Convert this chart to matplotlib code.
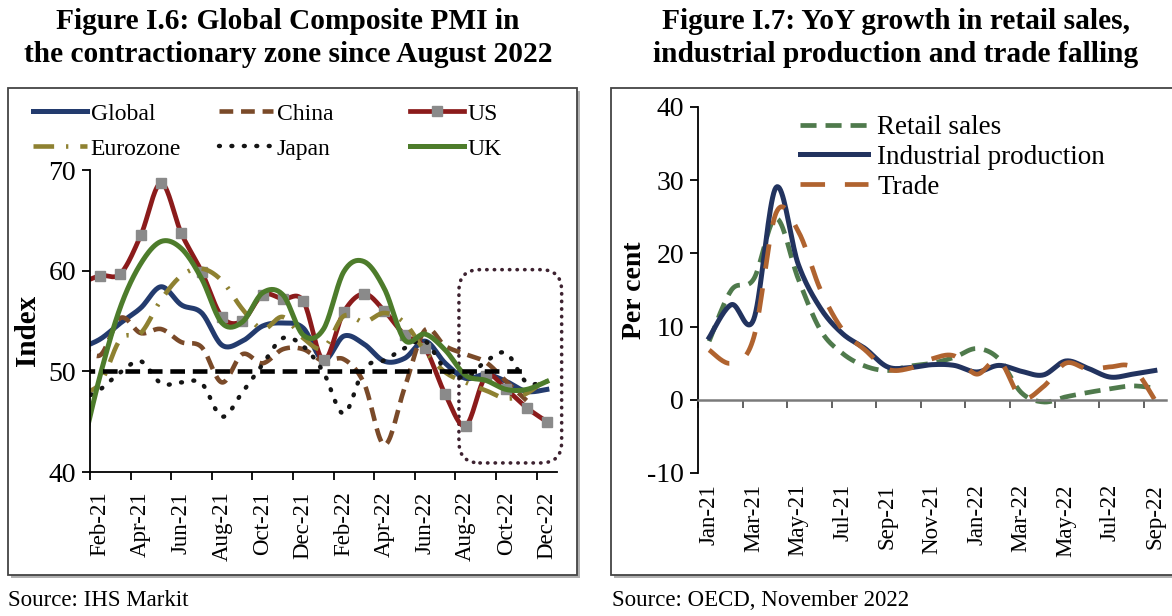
import numpy as np
import matplotlib
matplotlib.use("Agg")
import matplotlib.pyplot as plt
from matplotlib.lines import Line2D
from matplotlib.patches import Rectangle, FancyBboxPatch

plt.rcParams['font.family'] = ['Liberation Serif', 'DejaVu Serif']
plt.rcParams['axes.unicode_minus'] = False

# Figure I.6: composite PMI, Jan-21 .. Dec-22 (Jan-21 sits left of the axis start)
pmi_months = ['Jan-21', 'Feb-21', 'Mar-21', 'Apr-21', 'May-21', 'Jun-21', 'Jul-21', 'Aug-21',
              'Sep-21', 'Oct-21', 'Nov-21', 'Dec-21', 'Jan-22', 'Feb-22', 'Mar-22', 'Apr-22',
              'May-22', 'Jun-22', 'Jul-22', 'Aug-22', 'Sep-22', 'Oct-22', 'Nov-22', 'Dec-22']
pmi_global = [52.3, 53.2, 54.8, 56.3, 58.4, 56.6, 55.8, 52.6, 53.0, 54.5, 54.8, 54.3,
              51.1, 53.5, 52.7, 51.0, 51.3, 53.0, 50.8, 49.3, 49.7, 49.0, 48.0, 48.2]
pmi_china = [52.8, 51.6, 55.3, 53.8, 54.2, 52.9, 52.4, 48.9, 51.7, 50.8, 52.2, 52.2,
             51.0, 51.2, 48.8, 42.7, 48.4, 54.1, 52.5, 51.7, 50.9, 49.0, 47.1, np.nan]
pmi_us = [58.7, 59.5, 59.7, 63.5, 68.7, 63.7, 59.9, 55.4, 55.0, 57.6, 57.2, 57.0,
          51.1, 55.9, 57.7, 56.0, 53.6, 52.3, 47.7, 44.6, 49.5, 48.2, 46.4, 45.0]
pmi_eurozone = [47.8, 48.8, 53.2, 53.8, 57.1, 59.5, 60.2, 59.0, 56.2, 54.2, 55.4, 53.3,
                52.3, 55.5, 54.9, 55.8, 54.8, 52.0, 49.9, 48.9, 48.1, 47.3, 47.8, 49.3]
pmi_japan = [47.1, 48.2, 49.9, 51.0, 48.8, 48.9, 48.8, 45.5, 47.9, 50.7, 53.3, 52.5,
             49.9, 45.8, 50.3, 51.1, 52.3, 53.0, 50.2, 49.4, 51.0, 51.8, 48.9, 49.0]
pmi_uk = [41.2, 49.6, 56.4, 60.7, 62.9, 62.2, 59.2, 54.8, 54.9, 57.8, 57.6, 53.6,
          54.2, 59.9, 60.9, 58.2, 53.1, 53.7, 52.1, 49.6, 49.1, 48.2, 48.2, 49.0]
pmi_threshold = [50.0] * 23 + [np.nan]

# Figure I.7: YoY growth (per cent), Jan-21 .. Sep-22
oecd_months = ['Jan-21', 'Feb-21', 'Mar-21', 'Apr-21', 'May-21', 'Jun-21', 'Jul-21',
               'Aug-21', 'Sep-21', 'Oct-21', 'Nov-21', 'Dec-21', 'Jan-22', 'Feb-22',
               'Mar-22', 'Apr-22', 'May-22', 'Jun-22', 'Jul-22', 'Aug-22', 'Sep-22']
retail_sales = [8.0, 15.0, 16.5, 24.8, 16.5, 9.5, 6.3, 4.6, 4.0, 4.6, 5.0, 5.8,
                7.0, 5.6, 1.0, -0.3, 0.4, 1.0, 1.5, 1.9, 1.6]
industrial_prod = [8.5, 13.0, 11.0, 29.0, 18.5, 12.5, 9.0, 7.0, 4.5, 4.4, 4.8, 4.7,
                   3.8, 4.7, 3.9, 3.4, 5.3, 4.3, 3.1, 3.5, 4.0]
trade = [6.8, 5.0, 8.5, 25.5, 23.0, 15.0, 9.5, 6.8, 4.2, 4.3, 5.6, 6.0,
         3.5, 5.4, 0.3, 1.8, 5.0, 4.2, 4.5, 4.4, 0.0]


def smooth(values, steps=20):
    # Catmull-Rom curve through the points, like Excel's "smoothed line"
    y = np.asarray(values, dtype=float)
    x = np.arange(len(y), dtype=float)
    ok = ~np.isnan(y)
    x, y = x[ok], y[ok]
    xp = np.concatenate([[x[0]], x, [x[-1]]])
    yp = np.concatenate([[y[0]], y, [y[-1]]])
    t = np.linspace(0, 1, steps, endpoint=False)
    xs, ys = [], []
    for i in range(1, len(x)):
        for arr, out in ((xp, xs), (yp, ys)):
            p0, p1, p2, p3 = arr[i - 1], arr[i], arr[i + 1], arr[i + 2]
            out.append(0.5 * (2 * p1 + (-p0 + p2) * t + (2 * p0 - 5 * p1 + 4 * p2 - p3) * t ** 2
                              + (-p0 + 3 * p1 - 3 * p2 + p3) * t ** 3))
    xs.append([x[-1]])
    ys.append([y[-1]])
    return np.concatenate(xs), np.concatenate(ys)


W, H = 1172, 616
fig = plt.figure(figsize=(W / 100, H / 100), dpi=100)

# panel frames
for x0, x1 in ((8, 577), (611, 1175)):
    fig.add_artist(Rectangle(((x0 + 3) / W, (H - 578) / H), (x1 - x0) / W, (575 - 88) / H,
                             transform=fig.transFigure, facecolor='#b0b0b0', edgecolor='none', zorder=-3))
    fig.add_artist(Rectangle((x0 / W, (H - 575) / H), (x1 - x0) / W, (575 - 88) / H,
                             transform=fig.transFigure, facecolor='white', edgecolor='#444444',
                             lw=1.3, zorder=-2))

title_kw = dict(ha='center', va='center', fontsize=21.2, fontweight='bold', linespacing=1.3)
fig.text(288 / W, 1 - 38 / H, 'Figure I.6: Global Composite PMI in\nthe contractionary zone since August 2022', **title_kw)
fig.text(896 / W, 1 - 38 / H, 'Figure I.7: YoY growth in retail sales,\nindustrial production and trade falling', **title_kw)
fig.text(8 / W, 1 - 601 / H, 'Source: IHS Markit', va='center', fontsize=16.5)
fig.text(612 / W, 1 - 601 / H, 'Source: OECD, November 2022', va='center', fontsize=16.5)

# ---------------- left: PMI ----------------
axL = fig.add_axes([90 / W, 144 / H, 467 / W, 302 / H])
axL.set_facecolor('none')

styles = {
    'Global': dict(color='#233b6e', lw=3.6),
    'China': dict(color='#7a4a29', lw=3.3, ls=(0, (3, 1.7))),
    'US': dict(color='#8b1b1b', lw=3.4),
    'Eurozone': dict(color='#8e8131', lw=3.3, ls=(0, (4.5, 2.6, 0.5, 2.6))),
    'Japan': dict(color='#151515', lw=3.2, ls=(0, (0.2, 2.6)), dash_capstyle='round'),
    'UK': dict(color='#4d7c2b', lw=3.6),
}
series = {'Global': pmi_global, 'China': pmi_china, 'US': pmi_us,
          'Eurozone': pmi_eurozone, 'Japan': pmi_japan, 'UK': pmi_uk}
for name, vals in series.items():
    xs, ys = smooth(vals)
    axL.plot(xs, ys, **styles[name])
    if name == 'US':
        axL.plot(np.arange(len(vals)), vals, ls='none', marker='s', ms=7,
                 mfc='#8a8a8a', mec='#8a8a8a')

xs, ys = smooth(pmi_threshold)
axL.plot(xs, ys, color='black', lw=3.3, ls=(0, (3.2, 1.7)))

axL.set_xlim(0.5, 23.5)
axL.set_ylim(40, 70)
axL.set_yticks([40, 50, 60, 70])
axL.set_xticks(np.arange(0.5, 23.5, 2))
axL.set_xticklabels([])
axL.set_xticks(np.arange(1, len(pmi_months), 2), pmi_months[1::2], minor=True)
axL.tick_params(axis='x', which='minor', length=0, rotation=90, labelsize=16.5, pad=14)
axL.tick_params(axis='x', which='major', length=6, width=1.3, direction='out')
axL.tick_params(axis='y', length=6, width=1.3, labelsize=20, pad=4)
for s in ('top', 'right'):
    axL.spines[s].set_visible(False)
for s in ('left', 'bottom'):
    axL.spines[s].set_linewidth(1.3)
axL.set_ylabel('Index', fontsize=21, fontweight='bold')
axL.yaxis.set_label_coords(-0.105, 0.47)

# dotted rounded box around the latest months
asp = 467 / 302
box = FancyBboxPatch((0.79, 0.03), 0.22, 0.64, boxstyle='round,pad=0,rounding_size=0.045',
                     mutation_aspect=asp, transform=axL.transAxes, clip_on=False,
                     fill=False, edgecolor='#3d2230', lw=2.6, ls=(0, (0.1, 2.0)),
                     capstyle='round')
axL.add_patch(box)

# legend: three columns, placed one by one
columns = [(['Global', 'Eurozone'], 33), (['China', 'Japan'], 219), (['US', 'UK'], 410)]
for names, xpix in columns:
    handles = []
    for name in names:
        kw = dict(styles[name])
        if name == 'US':
            kw.update(marker='s', ms=7, mfc='#8a8a8a', mec='#8a8a8a', markevery=[1])
            handles.append(Line2D([0, 0.5, 1], [0, 0, 0], **kw))
        else:
            handles.append(Line2D([], [], **kw))
    fig.legend(handles, names, loc='upper left', bbox_to_anchor=(xpix / W, 1 - 103 / H),
               frameon=False, fontsize=17, handlelength=2.3, handletextpad=0.15,
               labelspacing=0.58, borderpad=0, borderaxespad=0)

# ---------------- right: OECD ----------------
axR = fig.add_axes([698 / W, 143 / H, 468 / W, 366 / H])
axR.set_facecolor('none')
r_styles = {
    'Retail sales': dict(color='#4f7a4c', lw=3.4, ls=(0, (3.4, 1.9))),
    'Industrial production': dict(color='#22335f', lw=3.6),
    'Trade': dict(color='#b0632f', lw=3.4, ls=(0, (5.2, 4.2))),
}
r_series = {'Retail sales': retail_sales, 'Industrial production': industrial_prod, 'Trade': trade}
for name, vals in r_series.items():
    xs, ys = smooth(vals)
    axR.plot(xs, ys, **r_styles[name])

axR.set_xlim(-0.5, 20.5)
axR.set_ylim(-10, 40)
axR.set_yticks(np.arange(-10, 41, 10))
axR.set_xticks(np.arange(-0.5, 20, 2))
axR.set_xticklabels([])
axR.spines['bottom'].set_position(('data', 0))
axR.spines['bottom'].set_color('#7a7a7a')
axR.spines['bottom'].set_linewidth(1.8)
axR.spines['left'].set_linewidth(1.3)
for s in ('top', 'right'):
    axR.spines[s].set_visible(False)
axR.tick_params(axis='x', length=6, width=1.3, color='#555555', direction='out')
axR.tick_params(axis='y', length=6, width=1.3, labelsize=20, pad=4)
sec = axR.secondary_xaxis('bottom')
sec.set_xticks(np.arange(0, len(oecd_months), 2), oecd_months[::2])
sec.tick_params(length=0, rotation=90, labelsize=16.5, pad=8)
sec.spines['bottom'].set_visible(False)
axR.set_ylabel('Per cent', fontsize=20, fontweight='bold')
axR.yaxis.set_label_coords(-0.11, 0.5)
axR.legend([Line2D([], [], **r_styles[n]) for n in r_series], list(r_series),
           loc='upper left', bbox_to_anchor=(0.218, 0.978), frameon=False, fontsize=19.5,
           handlelength=2.5, handletextpad=0.35, labelspacing=0.18, borderpad=0, borderaxespad=0)

fig.savefig('out.png', dpi=100)
